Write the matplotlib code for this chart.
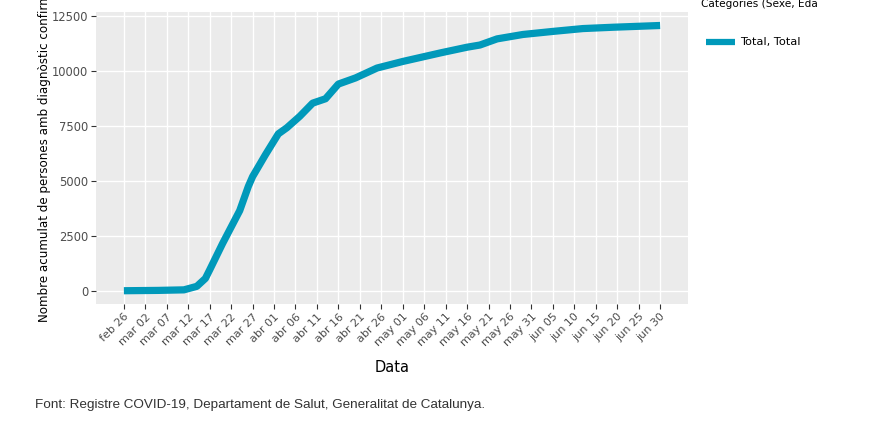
import matplotlib
matplotlib.use("Agg")
import matplotlib.pyplot as plt
from matplotlib.transforms import Bbox
import pandas as pd

# ---- data ----
dates = ["2020-02-26", "2020-03-05", "2020-03-11", "2020-03-14", "2020-03-16",
         "2020-03-17", "2020-03-18", "2020-03-20", "2020-03-22", "2020-03-24",
         "2020-03-26", "2020-03-27", "2020-03-30", "2020-04-02", "2020-04-04",
         "2020-04-07", "2020-04-10", "2020-04-13", "2020-04-16", "2020-04-20",
         "2020-04-25", "2020-05-01", "2020-05-10", "2020-05-16", "2020-05-19",
         "2020-05-23", "2020-05-29", "2020-06-05", "2020-06-12", "2020-06-19",
         "2020-06-30"]
values = [0, 15, 40, 200, 560,
          950, 1350, 2150, 2900, 3650,
          4750, 5200, 6200, 7150, 7430,
          7950, 8550, 8750, 9420, 9700,
          10150, 10450, 10850, 11100, 11200,
          11480, 11680, 11820, 11950, 12010,
          12090]
series_name = "Total, Total"

tick_dates = ["2020-02-26", "2020-03-02", "2020-03-07", "2020-03-12", "2020-03-17",
              "2020-03-22", "2020-03-27", "2020-04-01", "2020-04-06", "2020-04-11",
              "2020-04-16", "2020-04-21", "2020-04-26", "2020-05-01", "2020-05-06",
              "2020-05-11", "2020-05-16", "2020-05-21", "2020-05-26", "2020-05-31",
              "2020-06-05", "2020-06-10", "2020-06-15", "2020-06-20", "2020-06-25",
              "2020-06-30"]
tick_labels = ["feb 26", "mar 02", "mar 07", "mar 12", "mar 17", "mar 22", "mar 27",
               "abr 01", "abr 06", "abr 11", "abr 16", "abr 21", "abr 26",
               "may 01", "may 06", "may 11", "may 16", "may 21", "may 26", "may 31",
               "jun 05", "jun 10", "jun 15", "jun 20", "jun 25", "jun 30"]
y_ticks = [0, 2500, 5000, 7500, 10000, 12500]

# ---- plot ----
W, H = 892, 430
fig = plt.figure(figsize=(W / 100, H / 100), dpi=100)
fig.patch.set_facecolor("white")
ax = fig.add_axes([96 / W, 1 - 304 / H, (688 - 96) / W, (304 - 12) / H])
ax.set_facecolor("#EBEBEB")

line_color = "#0099BA"
x = pd.to_datetime(dates)
ax.plot(x, values, color=line_color, lw=5.2, solid_capstyle="butt",
        solid_joinstyle="round", zorder=3)

td = pd.to_datetime(tick_dates)
ax.set_xticks(td)
ax.set_xticklabels(tick_labels, rotation=45, ha="right", rotation_mode="anchor",
                   fontsize=8.0, color="#4D4D4D", family="DejaVu Sans")
ax.set_yticks(y_ticks)
ax.set_yticklabels([str(v) for v in y_ticks], fontsize=8.3, color="#4D4D4D",
                   family="DejaVu Sans")

ax.set_xlim(td[0] - pd.Timedelta(days=6.5), td[-1] + pd.Timedelta(days=6.5))
ax.set_ylim(-605, 12705)

ax.grid(True, color="white", lw=1.0)
ax.set_axisbelow(True)
for s in ax.spines.values():
    s.set_visible(False)
ax.tick_params(axis="both", length=3.5, width=0.8, color="#333333", pad=2)

ax.set_xlabel("Data", fontsize=10.5, color="black", labelpad=8, family="DejaVu Sans")

fig.text(45 / W, 1 - 322 / H, "Nombre acumulat de persones amb diagnòstic confirmats",
         rotation=90, ha="center", va="bottom", fontsize=8.6, color="black",
         family="DejaVu Sans")

# legend
t = fig.text(701 / W, 1 - 4 / H, "Categories (Sexe, Edat)", ha="left", va="center",
             fontsize=7.6, color="black", family="DejaVu Sans")
t.set_clip_on(True)
t.set_clip_box(Bbox.from_extents(0, 0, 817, H))
fig.add_artist(plt.Line2D([706 / W, 735 / W], [1 - 42 / H, 1 - 42 / H],
                          color=line_color, lw=4.5, solid_capstyle="butt",
                          transform=fig.transFigure))
fig.text(740 / W, 1 - 42 / H, series_name, ha="left", va="center", fontsize=8.2,
         color="black", family="DejaVu Sans")

fig.text(35 / W, 1 - 405 / H,
         "Font: Registre COVID-19, Departament de Salut, Generalitat de Catalunya.",
         ha="left", va="center", fontsize=9.7, color="#333333", family="Liberation Sans")

fig.savefig("out.png", dpi=100, facecolor="white")
